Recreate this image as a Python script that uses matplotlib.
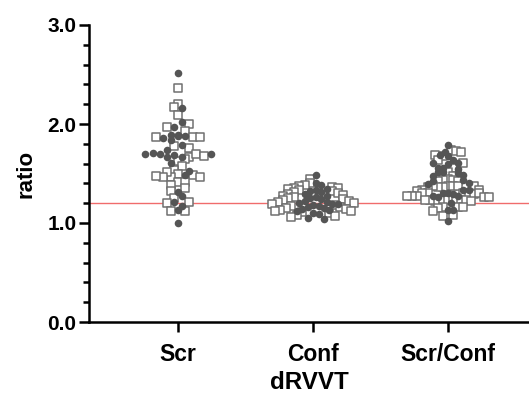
import numpy as np
import matplotlib.pyplot as plt
from matplotlib.ticker import MultipleLocator

plt.rcParams['font.family'] = ['Liberation Sans', 'DejaVu Sans']
plt.rcParams['font.weight'] = 'bold'

categories = ['Scr', 'Conf', 'Scr/Conf']
xlabel = 'dRVVT'
ylabel = 'ratio'
cutoff = 1.2

# filled circles / open squares per group
scr_circles = [2.52, 2.16, 2.02, 1.97, 1.88, 1.88, 1.89, 1.84, 1.86, 1.89, 1.79,
               1.67, 1.69, 1.67, 1.70, 1.71, 1.70, 1.74, 1.70, 1.61, 1.48, 1.53,
               1.27, 1.31, 1.17, 1.21, 1.13, 1.00]
scr_squares = [2.36, 2.20, 2.17, 2.09, 2.00, 1.97, 1.93, 1.87, 1.87, 1.87, 1.78,
               1.76, 1.67, 1.70, 1.68, 1.63, 1.65, 1.58, 1.54, 1.50, 1.46, 1.48,
               1.52, 1.46, 1.46, 1.47, 1.41, 1.41, 1.38, 1.35, 1.32, 1.25, 1.21,
               1.20, 1.12, 1.12]
conf_circles = [1.48, 1.40, 1.38, 1.34, 1.33, 1.32, 1.31, 1.29, 1.27, 1.26, 1.25,
                1.24, 1.22, 1.21, 1.20, 1.19, 1.19, 1.18, 1.17, 1.16, 1.15, 1.14,
                1.13, 1.12, 1.10, 1.09, 1.05, 1.04]
conf_squares = [1.44, 1.40, 1.38, 1.37, 1.36, 1.35, 1.35, 1.34, 1.33, 1.32, 1.31,
                1.30, 1.29, 1.28, 1.27, 1.26, 1.25, 1.24, 1.23, 1.22, 1.21, 1.20,
                1.19, 1.18, 1.17, 1.16, 1.15, 1.14, 1.13, 1.12, 1.12, 1.11, 1.10,
                1.08, 1.07, 1.06]
sc_circles = [1.79, 1.72, 1.69, 1.68, 1.64, 1.61, 1.60, 1.61, 1.56, 1.55, 1.56,
              1.52, 1.51, 1.52, 1.48, 1.47, 1.43, 1.42, 1.40, 1.39, 1.33, 1.33,
              1.30, 1.29, 1.30, 1.27, 1.26, 1.27, 1.20, 1.13, 1.13, 1.02]
sc_squares = [1.74, 1.73, 1.72, 1.69, 1.68, 1.64, 1.61, 1.56, 1.52, 1.47, 1.44,
              1.43, 1.43, 1.42, 1.42, 1.37, 1.37, 1.36, 1.37, 1.36, 1.37, 1.36,
              1.37, 1.33, 1.33, 1.32, 1.30, 1.30, 1.30, 1.29, 1.30, 1.30, 1.27,
              1.26, 1.27, 1.26, 1.27, 1.23, 1.23, 1.23, 1.23, 1.22, 1.23, 1.23,
              1.22, 1.23, 1.16, 1.16, 1.15, 1.16, 1.12, 1.08, 1.07]

groups = [(scr_circles, scr_squares), (conf_circles, conf_squares),
          (sc_circles, sc_squares)]


def swarm(y_px, rank, d, max_half):
    # Prism-like rows: bin by height d, spread each row center-out
    xs = np.zeros(len(y_px))
    bins = np.floor((y_px - y_px.min()) / d).astype(int)
    for b in np.unique(bins):
        idx = np.where(bins == b)[0]
        idx = idx[np.argsort(rank[idx], kind='stable')]
        n = len(idx)
        slots = (np.arange(n) - (n - 1) / 2) * d
        slots = slots[np.argsort(np.abs(slots) - 1e-6 * slots, kind='stable')]
        xs[idx] = slots
    m = np.abs(xs).max()
    if m > max_half:
        xs = xs * max_half / m
    return xs


fig = plt.figure(figsize=(5.29, 3.95), dpi=100)
ax = fig.add_axes([89 / 529, 73 / 395, 440 / 529, 297 / 395])
ax.set_xlim(-0.66, 2.6)
ax.set_ylim(0, 3.0)

# pixels per data unit
p0 = ax.transData.transform((0, 0))
p1 = ax.transData.transform((1, 1))
ppx, ppy = p1[0] - p0[0], p1[1] - p0[1]

ax.axhline(cutoff, color='#f06c6c', lw=1.0, zorder=1)

for k, (circ, sq) in enumerate(groups):
    vals = np.array(circ + sq)
    n = len(circ)
    # interleave circles and squares when filling a row
    rank = np.concatenate([np.arange(n) * 2.0, np.arange(len(sq)) * 2.0 + 1])
    offs = swarm(vals * ppy, rank, 7.3, 41) / ppx
    ax.scatter(k + offs[n:], vals[n:], marker='s', s=26, facecolor='white',
               edgecolor='#707070', linewidth=1.1, zorder=2)
    ax.scatter(k + offs[:n], vals[:n], marker='o', s=30, color='#555555',
               linewidth=0, zorder=3)

ax.set_xticks(range(len(categories)))
ax.set_xticklabels(categories, fontsize=16.5, fontweight='bold')
ax.yaxis.set_minor_locator(MultipleLocator(0.2))
ax.set_yticks([0, 1, 2, 3])
ax.set_yticklabels(['0.0', '1.0', '2.0', '3.0'], fontsize=15, fontweight='bold')
ax.set_xlabel(xlabel, fontsize=17.5, fontweight='bold', labelpad=4)
ax.set_ylabel(ylabel, fontsize=16, fontweight='bold', labelpad=8)

for s in ['top', 'right']:
    ax.spines[s].set_visible(False)
for s in ['left', 'bottom']:
    ax.spines[s].set_linewidth(1.8)
ax.tick_params(axis='both', which='major', length=7, width=1.8, pad=2)
ax.tick_params(axis='y', which='minor', length=4, width=1.8)
ax.tick_params(axis='x', which='major', pad=8)

fig.savefig('out.png', dpi=100)
